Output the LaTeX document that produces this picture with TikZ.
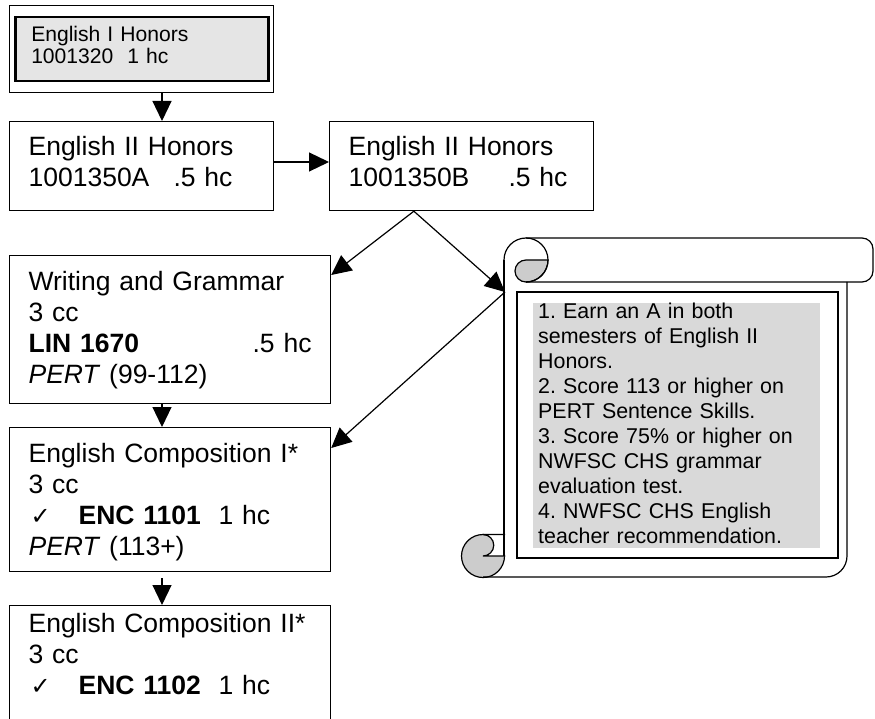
\documentclass[tikz,border=0pt]{standalone}
\usepackage{fontspec}
\setmainfont{Liberation Sans}
\newfontfamily\checkfont{DejaVu Sans}
\usetikzlibrary{calc,arrows.meta}
\frenchspacing
\newcommand{\boxfont}{\fontsize{26.5}{31}\selectfont}
\newcommand{\topfont}{\fontsize{21.1}{22.5}\selectfont}
\newcommand{\notefont}{\fontsize{21.4}{25}\selectfont}
\newcommand{\chk}{\makebox[50pt][l]{\hspace{2pt}{\checkfont\fontsize{24}{24}\selectfont ✓}}}

\begin{document}
\begin{tikzpicture}[x=1pt,y=-1pt,
	course/.style={draw,line width=1.2pt,anchor=north west,align=left,inner xsep=19pt,inner ysep=0pt,font=\boxfont},
	arr/.style={-{Triangle[length=20pt,width=19pt]},line width=1.2pt},
	scroll/.style={line width=1.2pt}]
					\useasboundingbox (0,0) rectangle (875,719);
					\clip (0,0) rectangle (875,719);
					%TOP BOX
					\node[draw,line width=1pt,anchor=north west,minimum width=264pt,minimum height=87pt,inner sep=0pt] (frameI) at (9,5) {};
					\node[draw,line width=2.5pt,fill=gray!20,anchor=north west,align=left,text width=221pt,inner xsep=16pt,inner ysep=0pt,text height=24pt,text depth=40pt,font=\topfont] (honI) at (14,16) {English I Honors\\1001320\ \ 1 hc};
					%COURSES
					\node[course,text width=226pt,text height=34pt,text depth=55pt] (engIIa) at (9,121) {English II Honors\\ \makebox[145pt][l]{1001350A}.5 hc};
					\node[course,text width=226pt,text height=34pt,text depth=55pt] (engIIb) at (329,121) {English II Honors\\ \makebox[160pt][l]{1001350B}.5 hc};
					\node[course,text width=283pt,text height=35pt,text depth=113pt] (wrg) at (9,255) {Writing and Grammar\\3 cc\\ \makebox[224pt][l]{\textbf{LIN 1670}}.5 hc\\ \textit{PERT} (99-112)};
					\node[course,text width=283pt,text height=35pt,text depth=109pt] (enc1) at (9,427) {English Composition I*\\3 cc\\ \chk\textbf{ENC 1101}\ \ 1 hc\\ \textit{PERT} (113+)};
					\node[course,text width=283pt,text height=27pt,text depth=190pt] (enc2) at (9,605) {English Composition II*\\3 cc\\ \chk\textbf{ENC 1102}\ \ 1 hc};
					%SCROLL
					\fill[gray!40] (526,260) -- (548,260) arc (0:-90:22pt) arc (-90:-270:11pt) -- cycle;
					\draw[scroll] (526,260) -- (548,260) arc (0:-90:22pt) arc (-90:-270:11pt);
					\draw[scroll] (504,260) arc (180:-90:22pt);
					\draw[scroll,rounded corners=11pt] (526,238) -- (873,238) -- (873,282) -- (526,282);
					\filldraw[scroll,fill=gray!40] (483,556) circle (21.5pt);
					\fill[white] (483,534.5) -- (505,534.5) -- (505,556) -- (483,556) arc (-90:90:10.75pt) -- cycle;
					\draw[scroll] (505,534.5) -- (483,534.5) arc (90:-90:10.75pt) -- (505,556);
					\draw[scroll] (504,260) -- (504,556);
					\draw[scroll,rounded corners=21pt] (483,577) -- (847,577) -- (847,282);
					\draw[line width=1.5pt] (517,292) rectangle (838,558);
					\node[anchor=north west,fill=gray!30,align=left,text width=277pt,inner xsep=5pt,inner ysep=0pt,text height=15pt,text depth=230pt,font=\notefont] (req) at (533,303) {1. Earn an A in both\\semesters of English II\\Honors.\\2. Score 113 or higher on\\PERT Sentence Skills.\\3. Score 75\% or higher on\\NWFSC CHS grammar\\evaluation test.\\4. NWFSC CHS English\\teacher recommendation.};
					%ARROWS
					\coordinate (col) at (162,0);
					\coordinate (mid) at (0,162);
					\coordinate (fork) at ($(engIIb.south west)!0.32!(engIIb.south east)$);
					\coordinate (scrollin) at (505,292);
					\draw[arr] (frameI.south -| col) -- (engIIa.north -| col);
					\draw[arr] (engIIa.east |- mid) -- (engIIb.west |- mid);
					\draw[arr] (fork) -- ($(wrg.north east)+(0,20)$);
					\draw[arr] (fork) -- (scrollin);
					\draw[arr] (scrollin) -- ($(enc1.north east)+(0,21)$);
					\draw[arr] (wrg.south -| col) -- (enc1.north -| col);
					\draw[arr,shorten <=6pt] (enc1.south -| col) -- (enc2.north -| col);
\end{tikzpicture}
\end{document}
